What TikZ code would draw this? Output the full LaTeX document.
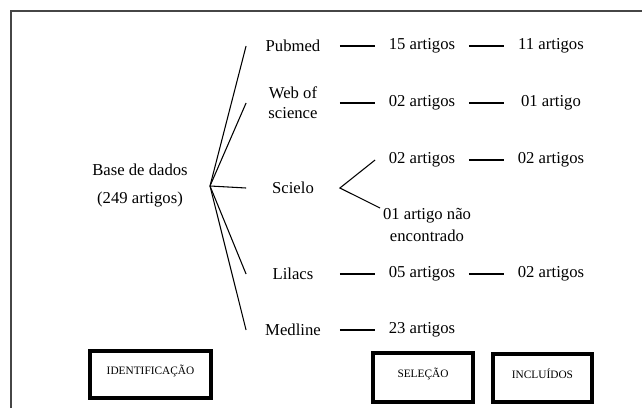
\documentclass[tikz,border=0pt]{standalone}
\usepackage{fontspec}
\setmainfont{Liberation Serif}
\begin{document}
\begin{tikzpicture}[x=0.75pt,y=0.75pt,yscale=-1,xscale=1,
  item/.style={inner sep=0pt,minimum width=70pt,align=center,font=\fontsize{12.5}{15}\selectfont},
  stage/.style={draw,line width=2.6pt,inner sep=0pt,text height=6pt,text depth=6pt,font=\fontsize{8.5}{10}\selectfont},
  link/.style={line width=0.8pt}]
\useasboundingbox (0,0) rectangle (642,408);

%Straight Lines [frame]
\draw [line width=1pt, color={rgb, 255:red, 70; green, 70; blue, 70 }] (11,408) -- (11,11) -- (642,11) ;

% Text Node
\node [item] (base) at (140,186) {Base de dados\\[6pt](249 artigos)};
\coordinate (fan) at (210,186);
% Text Node
\node [item] (pub) at (293,46) {Pubmed};
% Text Node
\node [item] (wos) at (293,103) {Web of\\science};
% Text Node
\node [item] (sci) at (293,188) {Scielo};
% Text Node
\node [item] (lil) at (293,274) {Lilacs};
% Text Node
\node [item] (med) at (293,330) {Medline};

% Text Node
\node [item] (pubsel) at (422,46) {15 artigos};
\node [item] (pubinc) at (551,46) {11 artigos};
% Text Node
\node [item] (wossel) at (422,103) {02 artigos};
\node [item] (wosinc) at (551,103) {01 artigo};
% Text Node
\node [item] (scisel) at (422,160) {02 artigos};
\node [item] (sciinc) at (551,160) {02 artigos};
\node [item] (scinao) at (427,225) {01 artigo não\\[1.5pt]encontrado};
% Text Node
\node [item] (lilsel) at (422,274) {05 artigos};
\node [item] (lilinc) at (551,274) {02 artigos};
% Text Node
\node [item] (medsel) at (422,330) {23 artigos};

%Straight Lines [fan]
\foreach \db in {pub,wos,sci,lil,med}
  \draw [link] (fan) -- (\db.west) ;

%Straight Lines [rows]
\foreach \db in {pub,wos,lil,med}
  \draw [link] (\db.east) -- (\db sel.west) ;
\foreach \db in {pub,wos,sci,lil}
  \draw [link] (\db sel.east) -- (\db inc.west) ;
\draw [link] (scisel.west) -- (sci.east) -- (scinao.north west) ;

%Shape: Rectangle [stages]
\node [stage, minimum width=90.75pt, minimum height=35.25pt] (ident) at (150.5,374.5) {IDENTIFICAÇÃO};
\node [stage, minimum width=75pt, minimum height=36.75pt] (selec) at (423,377.5) {SELEÇÃO};
\node [stage, minimum width=74.25pt, minimum height=36pt] (inclu) at (542.5,378) {INCLUÍDOS};

\end{tikzpicture}
\end{document}
